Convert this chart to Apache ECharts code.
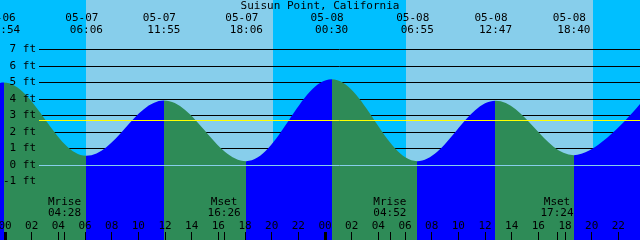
<!DOCTYPE html>
<html><head><meta charset="utf-8">
<script src="https://cdn.jsdelivr.net/npm/echarts@6/dist/echarts.min.js"></script>
<style>html,body{margin:0;padding:0;background:#00BFFF}#c{width:640px;height:240px}</style>
</head><body><div id="c"></div>
<script>
// ---- data ----
const chartTitle = 'Suisun Point, California';
const tideTimes = ['05-06 17:40','05-06 23:54','05-07 06:06','05-07 11:55','05-07 18:06','05-08 00:30','05-08 06:55','05-08 12:47','05-08 18:40','05-09 01:00'];
const tideHeights = [0.5, 5.0, 0.56, 3.92, 0.24, 5.2, 0.24, 3.9, 0.6, 5.1];
const sunriseTimes = ['05-07 06:05','05-08 06:04'];
const sunsetTimes = ['05-07 20:05','05-08 20:05'];
const moonEvents = ['Mrise','Mset','Mrise','Mset'];
const moonTimes = ['05-07 04:28','05-07 16:26','05-08 04:52','05-08 17:24'];
const hourTicks = [0,2,4,6,8,10,12,14,16,18,20,22,24,26,28,30,32,34,36,38,40,42,44,46];
const dayStarts = [0,24];
const heightTicks = [-1,0,1,2,3,4,5,6,7];
const refLevels = [0, 2.73];

// ---- layout / style ----
const NIGHT = '#00BFFF', DAY = '#87CEEB', FALL = '#2E8B57', RISE = '#0000FF', MEAN = '#FFFF00';
const refColors = [DAY, MEAN];
const FONT = 'DejaVu Sans Mono';
const XMIN = -0.375, XMAX = 47.625;
const PX_PER_FT = 16.5, ZERO_Y = 165.1, H = 240;
const YMAX = ZERO_Y / PX_PER_FT, YMIN = YMAX - H / PX_PER_FT;

const toHours = s => {
  const [md, hm] = s.split(' ');
  const d = +md.split('-')[1];
  const [hh, mm] = hm.split(':').map(Number);
  return (d - 7) * 24 + hh + mm / 60;
};
const tideX = tideTimes.map(toHours);
const tideData = tideX.map((x, i) => [x, tideHeights[i]]);
const tideLabelX = tideX.filter(x => x >= XMIN && x <= XMAX);
const moonX = moonTimes.map(toHours);
const bands = sunriseTimes.map((s, i) => [toHours(s), toHours(sunsetTimes[i])]);
const findIdx = (arr, v) => arr.findIndex(a => Math.abs(a - v) < 1e-6);

const pieces = [];
for (let i = 0; i < tideX.length - 1; i++) {
  pieces.push({ gte: tideX[i], lt: tideX[i + 1], color: tideHeights[i + 1] > tideHeights[i] ? RISE : FALL });
}

const txt = { color: '#000', fontFamily: FONT, fontSize: 11 };
const hiddenLine = { show: false, onZero: false };
const baseX = { gridIndex: 0, type: 'value', min: XMIN, max: XMAX, z: 5, axisLine: hiddenLine, splitLine: { show: false } };

const chart = echarts.init(document.getElementById('c'), null, { renderer: 'canvas' });
chart.setOption({
  animation: false,
  backgroundColor: NIGHT,
  title: { text: chartTitle, left: 'center', top: 0, padding: 0, textStyle: Object.assign({ fontWeight: 'normal', lineHeight: 12 }, txt) },
  grid: [
    { left: 0, right: 0, top: 0, bottom: 0, containLabel: false, outerBoundsMode: 'none' },
    { left: 39, right: 0, top: ZERO_Y - 7 * PX_PER_FT, bottom: H - (ZERO_Y + 1 * PX_PER_FT), containLabel: false, outerBoundsMode: 'none' }
  ],
  visualMap: { type: 'piecewise', show: false, dimension: 0, seriesIndex: 1, pieces: pieces },
  xAxis: [
    Object.assign({}, baseX, {
      position: 'bottom',
      axisTick: { show: true, inside: true, length: 8, customValues: hourTicks, lineStyle: { color: '#000', width: 1 } },
      axisLabel: Object.assign({ show: true, inside: true, margin: 8, lineHeight: 11, customValues: hourTicks,
        formatter: v => String(((v % 24) + 24) % 24).padStart(2, '0') }, txt)
    }),
    Object.assign({}, baseX, {
      position: 'bottom',
      axisTick: { show: true, inside: true, length: 8, customValues: dayStarts, lineStyle: { color: '#000', width: 3 } },
      axisLabel: { show: false }
    }),
    Object.assign({}, baseX, {
      position: 'bottom',
      axisTick: { show: true, inside: true, length: 8, customValues: moonX, lineStyle: { color: '#000', width: 1 } },
      axisLabel: Object.assign({ show: true, inside: true, margin: 21, lineHeight: 11, customValues: moonX,
        formatter: v => { const i = findIdx(moonX, v); return moonEvents[i] + '\n' + moonTimes[i].split(' ')[1]; } }, txt)
    }),
    Object.assign({}, baseX, {
      position: 'top',
      axisTick: { show: false },
      axisLabel: { show: true, inside: true, margin: 12, customValues: tideLabelX,
        formatter: v => { const i = findIdx(tideX, v); const p = tideTimes[i].split(' '); return '{d|' + p[0] + '}\n{t|' + p[1] + '}'; },
        rich: {
          d: Object.assign({ lineHeight: 12, padding: [0, 9, 0, 0] }, txt),
          t: Object.assign({ lineHeight: 12 }, txt)
        } }
    }),
    { gridIndex: 1, type: 'value', min: 0, max: 1, show: false }
  ],
  yAxis: [
    { gridIndex: 0, type: 'value', min: YMIN, max: YMAX, z: 5, axisLine: hiddenLine, axisTick: { show: false }, splitLine: { show: false },
      axisLabel: Object.assign({ show: true, inside: true, margin: 36, align: 'right', customValues: heightTicks, formatter: v => v + ' ft' }, txt) },
    { gridIndex: 1, type: 'value', min: -1, max: 7, interval: 1, z: 2, axisLine: hiddenLine, axisTick: { show: false }, axisLabel: { show: false },
      splitLine: { show: true, lineStyle: { color: '#000', width: 1 } } }
  ],
  series: [
    { type: 'custom', xAxisIndex: 0, yAxisIndex: 0, z: 1, silent: true, data: bands,
      renderItem: (params, api) => {
        const p0 = api.coord([api.value(0), YMAX]);
        const p1 = api.coord([api.value(1), YMIN]);
        const x0 = Math.round(p0[0]), x1 = Math.round(p1[0]);
        return { type: 'rect', shape: { x: x0, y: p0[1], width: x1 - x0, height: p1[1] - p0[1] }, style: { fill: DAY } };
      } },
    { type: 'line', xAxisIndex: 0, yAxisIndex: 0, z: 3, silent: true, data: tideData,
      symbol: 'none', showSymbol: false, smooth: 0.363, smoothMonotone: 'x',
      lineStyle: { width: 1, opacity: 0 }, areaStyle: { opacity: 1, origin: 'start' } },
    { type: 'custom', xAxisIndex: 4, yAxisIndex: 1, z: 4, silent: true, data: refLevels.map(v => [0, v]),
      renderItem: (params, api) => {
        const y = Math.floor(api.coord([0, api.value(1)])[1]) + 0.5;
        const cs = params.coordSys;
        return { type: 'line', shape: { x1: cs.x, y1: y, x2: cs.x + cs.width, y2: y },
          style: { stroke: refColors[params.dataIndex], lineWidth: 1 } };
      } }
  ]
});
</script>
</body></html>
